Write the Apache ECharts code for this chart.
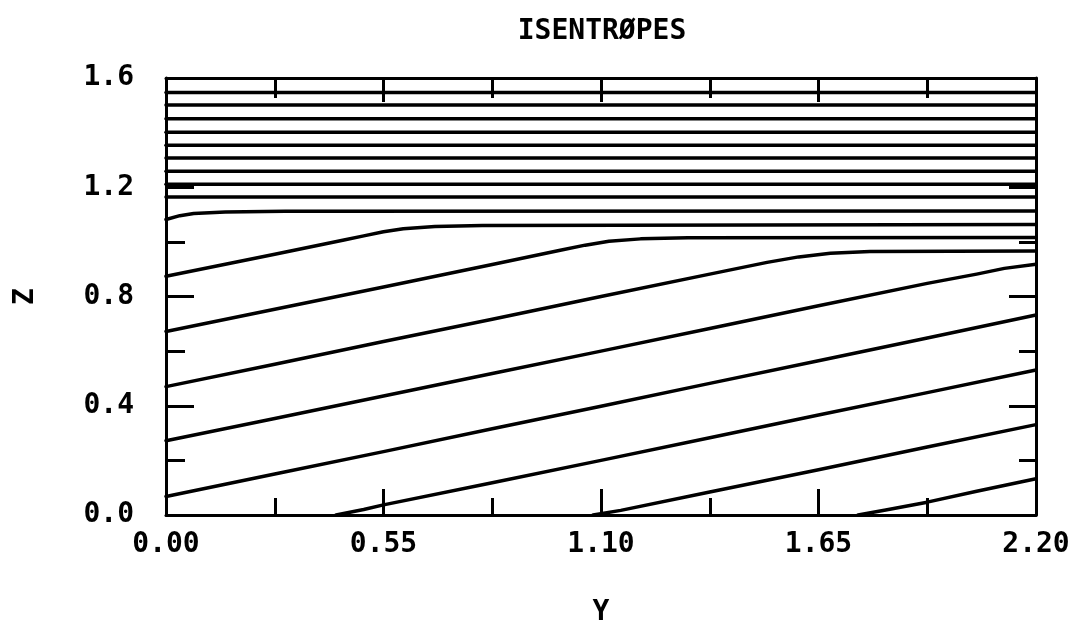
<!DOCTYPE html>
<html>
<head>
<meta charset="utf-8">
<title>ISENTRØPES</title>
<script src="https://cdn.jsdelivr.net/npm/echarts@6/dist/echarts.min.js"></script>
<style>
  html, body { margin: 0; padding: 0; background: #fff; }
  #chart { width: 1075px; height: 632px; }
</style>
</head>
<body>
<div id="chart"></div>
<script>
// Horizontal coordinate Y (0 .. 2.2) and height Z (0 .. 1.6)
const yTicks = [0, 0.55, 1.1, 1.65, 2.2];
const zTicks = [0, 0.4, 0.8, 1.2, 1.6];

// Tilted isentropes starting on the left boundary, as [Y, Z] pairs
const isentropeA = [[0, 0.068], [0.275, 0.150], [0.55, 0.232], [0.825, 0.316], [1.1, 0.398], [1.375, 0.482], [1.65, 0.565], [1.925, 0.648], [2.2, 0.732]];
const isentropeB = [[0, 0.272], [0.275, 0.353], [0.55, 0.436], [0.825, 0.518], [1.1, 0.600], [1.375, 0.683], [1.65, 0.766], [1.925, 0.848], [2.05, 0.882], [2.12, 0.903], [2.2, 0.918]];
const isentropeC = [[0, 0.470], [0.275, 0.552], [0.55, 0.635], [0.825, 0.717], [1.1, 0.800], [1.375, 0.882], [1.52, 0.925], [1.6, 0.945], [1.68, 0.958], [1.78, 0.965], [2.2, 0.967]];
const isentropeD = [[0, 0.672], [0.275, 0.753], [0.55, 0.835], [0.825, 0.917], [1.0, 0.970], [1.06, 0.988], [1.12, 1.002], [1.2, 1.011], [1.32, 1.015], [2.2, 1.016]];
const isentropeE = [[0, 0.874], [0.275, 0.955], [0.45, 1.007], [0.5, 1.022], [0.55, 1.037], [0.6, 1.048], [0.68, 1.056], [0.8, 1.060], [2.2, 1.064]];
const isentropeF = [[0, 1.082], [0.035, 1.096], [0.07, 1.104], [0.15, 1.109], [0.3, 1.112], [2.2, 1.113]];

// Tilted isentropes rising from the lower boundary
const isentropeG = [[0.43, 0], [0.5, 0.02], [0.55, 0.037], [0.825, 0.118], [1.1, 0.200], [1.375, 0.283], [1.65, 0.366], [1.925, 0.448], [2.2, 0.531]];
const isentropeH = [[1.08, 0], [1.15, 0.017], [1.375, 0.084], [1.65, 0.166], [1.925, 0.249], [2.2, 0.331]];
const isentropeI = [[1.75, 0], [1.82, 0.018], [1.925, 0.047], [2.05, 0.087], [2.2, 0.133]];

// Level isentropes in the upper layer (Z values)
const upperLevels = [1.164, 1.211, 1.259, 1.307, 1.354, 1.401, 1.451, 1.501, 1.547];

const INK = '#000';
const FONT = '"DejaVu Sans Mono", monospace';

const tilted = [isentropeA, isentropeB, isentropeC, isentropeD, isentropeE, isentropeF, isentropeG, isentropeH, isentropeI];
const levelLines = upperLevels.map(z => [[yTicks[0], z], [yTicks[yTicks.length - 1], z]]);

const series = tilted.concat(levelLines).map(pts => ({
  type: 'line',
  data: pts,
  showSymbol: false,
  symbol: 'none',
  silent: true,
  animation: false,
  lineStyle: { color: INK, width: 3.5, cap: 'round', join: 'round' }
}));

function axisBase(extra) {
  return Object.assign({
    type: 'value',
    axisLine: { show: true, onZero: false, lineStyle: { color: INK, width: 3 } },
    splitLine: { show: false },
    minorSplitLine: { show: false }
  }, extra);
}

const chart = echarts.init(document.getElementById('chart'), null, { renderer: 'canvas' });
chart.setOption({
  backgroundColor: '#fff',
  animation: false,
  title: {
    text: 'ISENTRØPES',
    left: 597,
    top: 13,
    textAlign: 'center',
    textStyle: { fontFamily: FONT, fontSize: 28, fontWeight: 'bold', color: INK }
  },
  grid: { left: 166, top: 78, width: 870, height: 438, containLabel: false },
  xAxis: [
    axisBase({
      position: 'bottom',
      min: yTicks[0], max: yTicks[yTicks.length - 1], interval: yTicks[1] - yTicks[0],
      name: 'Y', nameLocation: 'middle', nameGap: 84,
      nameTextStyle: { fontFamily: FONT, fontSize: 28, fontWeight: 'bold', color: INK },
      axisTick: { show: true, inside: true, length: 26, lineStyle: { color: INK, width: 3 } },
      minorTick: { show: true, splitNumber: 2, length: 17, lineStyle: { color: INK, width: 3 } },
      axisLabel: {
        show: true, margin: 16, color: INK, fontFamily: FONT, fontSize: 28, fontWeight: 'bold',
        formatter: v => v.toFixed(2)
      }
    }),
    axisBase({
      position: 'top',
      min: yTicks[0], max: yTicks[yTicks.length - 1], interval: yTicks[1] - yTicks[0],
      axisTick: { show: true, inside: true, length: 24, lineStyle: { color: INK, width: 3 } },
      minorTick: { show: true, splitNumber: 2, length: 20, lineStyle: { color: INK, width: 3 } },
      axisLabel: { show: false }
    })
  ],
  yAxis: [
    axisBase({
      position: 'left',
      min: zTicks[0], max: zTicks[zTicks.length - 1], interval: zTicks[1] - zTicks[0],
      name: 'Z', nameLocation: 'middle', nameGap: 126,
      nameTextStyle: { fontFamily: FONT, fontSize: 28, fontWeight: 'bold', color: INK },
      axisTick: { show: true, inside: true, length: 28, lineStyle: { color: INK, width: 3 } },
      minorTick: { show: true, splitNumber: 2, length: 19, lineStyle: { color: INK, width: 3 } },
      axisLabel: {
        show: true, margin: 32, color: INK, fontFamily: FONT, fontSize: 28, fontWeight: 'bold',
        formatter: v => v.toFixed(1)
      }
    }),
    axisBase({
      position: 'right',
      min: zTicks[0], max: zTicks[zTicks.length - 1], interval: zTicks[1] - zTicks[0],
      axisTick: { show: true, inside: true, length: 27, lineStyle: { color: INK, width: 3 } },
      minorTick: { show: true, splitNumber: 2, length: 17, lineStyle: { color: INK, width: 3 } },
      axisLabel: { show: false }
    })
  ],
  series: series
});
</script>
</body>
</html>
